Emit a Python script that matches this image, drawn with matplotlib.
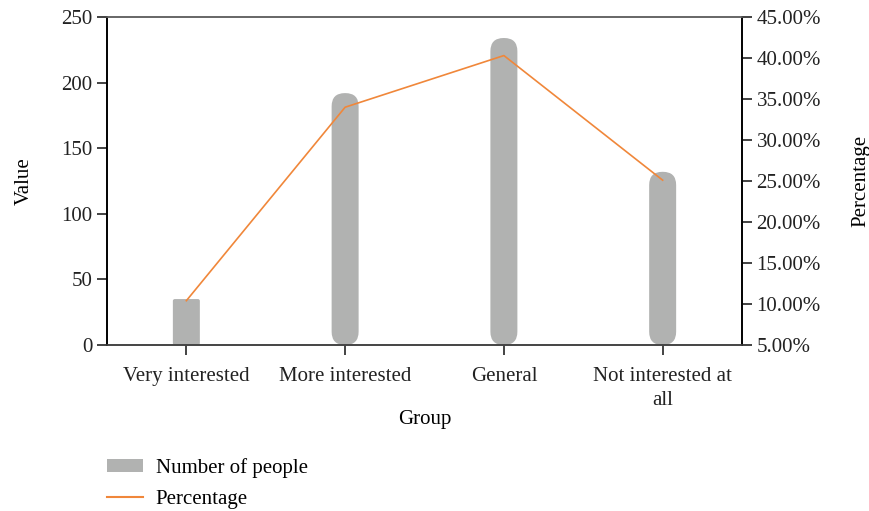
import matplotlib.pyplot as plt
from matplotlib.patches import FancyBboxPatch, Patch
from matplotlib.lines import Line2D
from matplotlib.ticker import FuncFormatter

# data
groups = ["Very interested", "More interested", "General", "Not interested at\nall"]
people = [35, 192, 234, 132]
percentage = [10.4, 34.0, 40.3, 25.1]

plt.rcParams['font.family'] = ['Liberation Serif', 'DejaVu Serif']
plt.rcParams['font.size'] = 15

bar_color = '#b1b2b1'
line_color = '#f0873a'

fig = plt.figure(figsize=(8.69, 5.11), dpi=100)
ax = fig.add_axes([0.1231, 0.3249, 0.7308, 0.6418])
ax2 = ax.twinx()

xs = [i + 0.5 for i in range(len(groups))]
ax.set_xlim(0, len(groups))
ax.set_ylim(0, 250)

# rounded "capsule" bars
width = 0.17
rx = width / 2 * 0.98
px_x = len(groups) / (0.7308 * 869)
px_y = 250 / (0.6418 * 511)
aspect = px_y / px_x
for i, (x, v) in enumerate(zip(xs, people)):
    r = rx if i > 0 else 0.012
    ry = r * aspect
    p = FancyBboxPatch((x - width / 2 + r, ry), width - 2 * r, v - 2 * ry,
                       boxstyle=f"round,pad={r},rounding_size={r}",
                       mutation_aspect=aspect, facecolor=bar_color,
                       edgecolor='none', zorder=2)
    ax.add_patch(p)

ax2.plot(xs, percentage, color=line_color, lw=1.2, zorder=3)
ax2.set_ylim(5, 45)
ax2.set_yticks(range(5, 46, 5))
ax2.yaxis.set_major_formatter(FuncFormatter(lambda v, _: f"{v:.2f}%"))

ax.set_xticks(xs)
ax.set_xticklabels(groups, linespacing=1.35)
ax.set_yticks(range(0, 251, 50))
ax.set_xlabel("Group", labelpad=0)
ax.set_ylabel("Value", labelpad=20)
ax2.set_ylabel("Percentage", labelpad=22)

for a in (ax, ax2):
    a.tick_params(direction='out', length=7, width=1.2, colors='#222222', labelcolor='#222222')
    for s in a.spines.values():
        s.set_linewidth(1.2)
    a.spines['top'].set_color('#666666')
    a.spines['bottom'].set_color('#444444')
ax.tick_params(axis='x', pad=9)

handles = [Patch(facecolor=bar_color, edgecolor='none'),
           Line2D([0], [0], color=line_color, lw=1.5)]
fig.legend(handles, ["Number of people", "Percentage"], loc='upper left',
           bbox_to_anchor=(0.123, 0.104), frameon=False, borderpad=0,
           borderaxespad=0, handlelength=1.75, handleheight=0.6,
           labelspacing=0.6, handletextpad=0.6)

fig.savefig("out.png", dpi=100)
